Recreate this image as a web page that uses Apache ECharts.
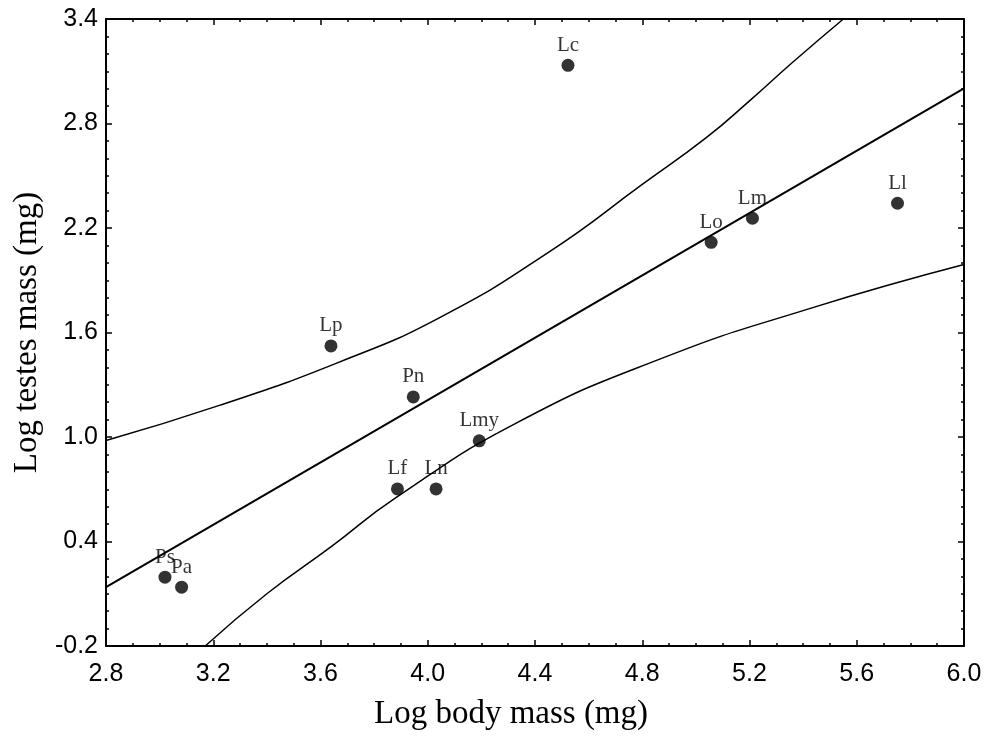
<!DOCTYPE html>
<html>
<head>
<meta charset="utf-8">
<script src="https://cdn.jsdelivr.net/npm/echarts@6/dist/echarts.min.js"></script>
<style>
  html, body { margin: 0; padding: 0; background: #fff; }
  #chart { width: 989px; height: 738px; }
</style>
</head>
<body>
<div id="chart"></div>
<script>
// species points
const species = ['Lc', 'Ll', 'Lm', 'Lo', 'Lp', 'Pn', 'Lmy', 'Lf', 'Ln', 'Ps', 'Pa'];
const bodyMass = [4.523, 5.752, 5.211, 5.057, 3.639, 3.946, 4.192, 3.887, 4.031, 3.020, 3.082];
const testesMass = [3.134, 2.342, 2.256, 2.118, 1.523, 1.230, 0.978, 0.702, 0.702, 0.195, 0.138];

// fitted line and confidence bands
const fitLine = [[2.8, 0.138], [6.0, 3.002]];
const upperBand = [[2.8, 0.98], [3.22, 1.18], [3.67, 1.43], [4.05, 1.69], [4.46, 2.07],
    [4.80, 2.45], [5.04, 2.72], [5.20, 2.93], [5.36, 3.15], [5.55, 3.40]];
const lowerBand = [[3.17, -0.2], [3.40, 0.10], [3.64, 0.37], [3.88, 0.65], [4.33, 1.08],
    [4.87, 1.45], [5.43, 1.74], [6.0, 1.99]];

const xTicks = { min: 2.8, max: 6.0, step: 0.4 };
const yTicks = { min: -0.2, max: 3.4, step: 0.6 };

const chart = echarts.init(document.getElementById('chart'));

const axisLine = { show: true, onZero: false, lineStyle: { color: '#000', width: 2 } };
const sansLabel = { color: '#000', fontSize: 25, fontFamily: 'Liberation Sans, Arial, sans-serif' };
const serif = 'Liberation Serif, Times New Roman, serif';

function axisBase(t, minorSplit) {
    return {
        type: 'value',
        min: t.min, max: t.max, interval: t.step,
        axisLine: axisLine,
        axisTick: { show: true, inside: true, length: 6, lineStyle: { color: '#000', width: 1.5 } },
        minorTick: { show: true, splitNumber: minorSplit, length: 3, lineStyle: { color: '#000', width: 1.5 } },
        splitLine: { show: false },
    };
}

chart.setOption({
    animation: false,
    grid: { left: 106, right: 25, top: 19, bottom: 92 },
    xAxis: [
        Object.assign(axisBase(xTicks, 4), {
            position: 'bottom',
            name: 'Log body mass (mg)',
            nameLocation: 'middle',
            nameGap: 52,
            nameTextStyle: { color: '#000', fontSize: 33, fontFamily: serif, padding: [0, 48, 0, 0] },
            axisLabel: Object.assign({ margin: 16, formatter: v => v.toFixed(1) }, sansLabel),
        }),
        Object.assign(axisBase(xTicks, 4), { position: 'top', axisLabel: { show: false } }),
    ],
    yAxis: [
        Object.assign(axisBase(yTicks, 6), {
            position: 'left',
            name: 'Log testes mass (mg)',
            nameLocation: 'middle',
            nameGap: 62,
            nameTextStyle: { color: '#000', fontSize: 33, fontFamily: serif },
            axisLabel: Object.assign({ margin: 8, formatter: v => v.toFixed(1) }, sansLabel),
        }),
        Object.assign(axisBase(yTicks, 6), { position: 'right', axisLabel: { show: false } }),
    ],
    series: [
        {
            type: 'line', data: fitLine, showSymbol: false, symbol: 'none',
            lineStyle: { color: '#000', width: 2 }, z: 2,
        },
        {
            type: 'line', data: upperBand, showSymbol: false, symbol: 'none', smooth: true,
            lineStyle: { color: '#000', width: 1.5 }, z: 2,
        },
        {
            type: 'line', data: lowerBand, showSymbol: false, symbol: 'none', smooth: true,
            lineStyle: { color: '#000', width: 1.5 }, z: 2,
        },
        {
            type: 'scatter',
            symbol: 'circle', symbolSize: 13,
            itemStyle: { color: '#000' },
            data: species.map((s, i) => ({ name: s, value: [bodyMass[i], testesMass[i]] })),
            label: {
                show: true, position: 'top', distance: 3,
                formatter: '{b}', color: '#000', fontSize: 21, fontFamily: serif,
            },
            z: 5,
        },
    ],
});
</script>
</body>
</html>
